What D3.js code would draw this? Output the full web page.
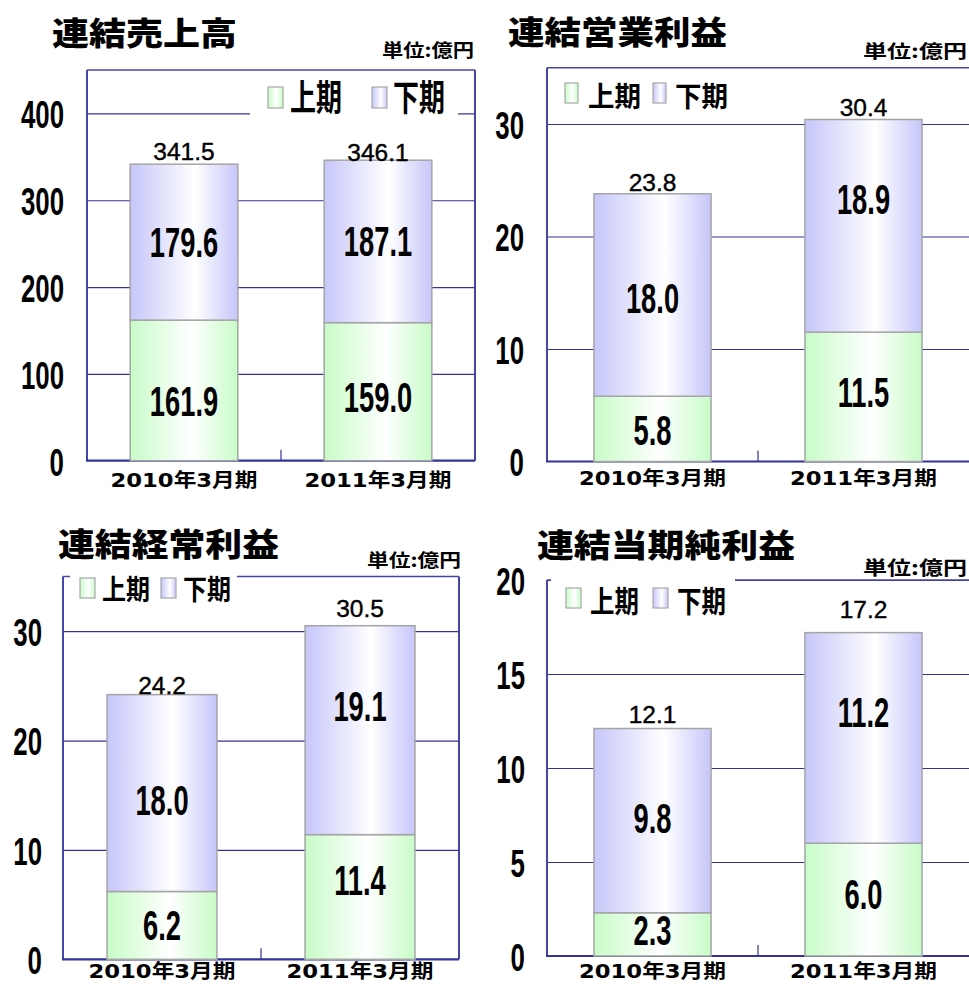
<!DOCTYPE html>
<html>
<head>
<meta charset="utf-8">
<script src="https://cdn.jsdelivr.net/npm/d3@7"></script>
<style>
  body { margin: 0; background: #fff; }
  svg { display: block; }
</style>
</head>
<body>
<div id="chart"></div>
<script>
const categories = ["2010年3月期", "2011年3月期"];
const seriesNames = ["上期", "下期"];
const chartTitles = ["連結売上高", "連結営業利益", "連結経常利益", "連結当期純利益"];
const unitText = "単位:億円";
const firstHalf = [[161.9, 159.0], [5.8, 11.5], [6.2, 11.4], [2.3, 6.0]];
const secondHalf = [[179.6, 187.1], [18.0, 18.9], [18.0, 19.1], [9.8, 11.2]];
const totals = [[341.5, 346.1], [23.8, 30.4], [24.2, 30.5], [12.1, 17.2]];
const yTicks = [[0, 100, 200, 300, 400], [0, 10, 20, 30], [0, 10, 20, 30], [0, 5, 10, 15, 20]];
const yMax = [450, 35, 35, 20];

// panel layout
const panels = [
  { x0: 87, x1: 475, y0: 70, y1: 460.7, right: true,
    title: { x: 52, y: 31, w: 185 }, unit: { x: 474, y: 49, w: 92, font: 18 },
    tickX: 64, catY: 480,
    legend: { box: [250, 78, 208, 48], font: 36, ty: 94.5, tw: 52, sy: 87, sw: 15, sh: 21, sx: [268, 372], tx: [290, 393] },
    totalOff: [12.5, 8], segOff: [[11.6, 6.4], [1, 0]] },
  { x0: 547, x1: 969, y0: 67.75, y1: 461.5, right: false,
    title: { x: 508, y: 30, w: 219 }, unit: { x: 967, y: 50, w: 104, font: 18 },
    tickX: 524, catY: 478,
    legend: { box: null, font: 28, ty: 94.5, tw: 53, sy: 83, sw: 13, sh: 20, sx: [565, 653], tx: [588, 675] },
    totalOff: [11, 12.5], segOff: [[1.5, -4], [4, -26]] },
  { x0: 63, x1: 459, y0: 576.5, y1: 959.3, right: true,
    title: { x: 58, y: 542, w: 221 }, unit: { x: 461, y: 559, w: 94, font: 18 },
    tickX: 42, catY: 971,
    legend: { box: [70, 570, 167, 40], font: 28, ty: 587.5, tw: 48, sy: 578, sw: 15, sh: 20, sx: [80, 161], tx: [102, 183] },
    totalOff: [9, 17], segOff: [[0, -16], [8, -23]] },
  { x0: 547, x1: 969, y0: 580, y1: 956, right: false,
    title: { x: 537, y: 542.5, w: 258 }, unit: { x: 967, y: 566, w: 104, font: 19 },
    tickX: 525, catY: 971,
    legend: { box: [551, 574, 184, 40], font: 30, ty: 598.5, tw: 49, sy: 588, sw: 15, sh: 20, sx: [566, 653], tx: [590, 677] },
    totalOff: [14.5, 23], segOff: [[-4, -4.6], [-1.6, -25]] }
];

const navy = "#333399";
const jp = "'Noto Sans CJK JP', 'Noto Sans CJK SC', sans-serif";
const catFont = "'DejaVu Sans', 'Noto Sans CJK JP', sans-serif";
const latin = "'Liberation Sans', Arial, sans-serif";

const svg = d3.select("#chart").append("svg")
    .attr("width", 969)
    .attr("height", 984);

svg.append("rect").attr("width", 969).attr("height", 984).attr("fill", "#fff");

const defs = svg.append("defs");
const addGradient = (id, edge, peak) => {
    const g = defs.append("linearGradient").attr("id", id)
        .attr("x1", 0).attr("x2", 1).attr("y1", 0).attr("y2", 0);
    g.append("stop").attr("offset", 0).attr("stop-color", edge);
    g.append("stop").attr("offset", peak).attr("stop-color", "#ffffff");
    g.append("stop").attr("offset", 1).attr("stop-color", edge);
};
addGradient("gradFirst", "#c8fcc8", 0.57);
addGradient("gradSecond", "#c6c6fa", 0.6);
const fills = ["url(#gradFirst)", "url(#gradSecond)"];

// digits in the picture are tall and narrow, so squeeze them sideways
const narrowText = (parent, x, y, str, size, sx, anchor, weight) => {
    parent.append("g")
        .attr("transform", `translate(${x},${y}) scale(${sx},1)`)
        .append("text")
        .attr("text-anchor", anchor)
        .attr("dominant-baseline", "central")
        .attr("font-family", latin)
        .attr("font-size", size)
        .attr("font-weight", weight)
        .attr("fill", "#000")
        .text(str);
};

panels.forEach((P, i) => {
    const g = svg.append("g");
    const y = d3.scaleLinear().domain([0, yMax[i]]).range([P.y1, P.y0]);
    const x = d3.scaleBand().domain(categories).range([P.x0, P.x1])
        .paddingInner(0.445).paddingOuter(0.2225);

    // gridlines
    g.append("g")
        .attr("transform", `translate(${P.x0},0)`)
        .call(d3.axisLeft(y).tickValues(yTicks[i].filter(v => v > 0))
            .tickSize(-(P.x1 - P.x0)).tickFormat(""))
        .call(a => a.select(".domain").remove())
        .selectAll("line")
        .attr("stroke", navy)
        .attr("stroke-width", 1.2);

    // frame
    const frame = g.append("g").attr("stroke", "#4646a6").attr("fill", "none");
    frame.append("line").attr("x1", P.x0).attr("x2", P.x1).attr("y1", P.y0).attr("y2", P.y0).attr("stroke-width", 1.5);
    frame.append("line").attr("x1", P.x0).attr("x2", P.x0).attr("y1", P.y0).attr("y2", P.y1).attr("stroke-width", 2);
    if (P.right) {
        frame.append("line").attr("x1", P.x1).attr("x2", P.x1).attr("y1", P.y0).attr("y2", P.y1).attr("stroke-width", 2);
    }
    frame.append("line").attr("x1", P.x0 - 1).attr("x2", P.x1).attr("y1", P.y1).attr("y2", P.y1)
        .attr("stroke", navy).attr("stroke-width", 2.2);
    const midX = (x(categories[0]) + x.bandwidth() + x(categories[1])) / 2;
    frame.append("line").attr("x1", midX).attr("x2", midX).attr("y1", P.y1 - 11).attr("y2", P.y1)
        .attr("stroke", navy).attr("stroke-width", 1.2);

    // legend
    const L = P.legend;
    if (L.box) {
        g.append("rect").attr("x", L.box[0]).attr("y", L.box[1])
            .attr("width", L.box[2]).attr("height", L.box[3]).attr("fill", "#fff");
    }
    seriesNames.forEach((name, k) => {
        g.append("rect")
            .attr("x", L.sx[k]).attr("y", L.sy)
            .attr("width", L.sw).attr("height", L.sh)
            .attr("fill", fills[k])
            .attr("stroke", "#a8a8a8").attr("stroke-width", 1.2);
        g.append("text")
            .attr("x", L.tx[k]).attr("y", L.ty)
            .attr("dominant-baseline", "central")
            .attr("font-family", jp).attr("font-weight", 700)
            .attr("font-size", L.font)
            .attr("textLength", L.tw).attr("lengthAdjust", "spacingAndGlyphs")
            .text(name);
    });

    // stacked bars
    const rows = categories.map((c, j) => ({ cat: c, first: firstHalf[i][j], second: secondHalf[i][j] }));
    const stacked = d3.stack().keys(["first", "second"])(rows);

    stacked.forEach((layer, k) => {
        g.append("g").selectAll("rect")
            .data(layer)
            .join("rect")
            .attr("x", d => x(d.data.cat))
            .attr("y", d => y(d[1]))
            .attr("width", x.bandwidth())
            .attr("height", d => y(d[0]) - y(d[1]))
            .attr("fill", fills[k])
            .attr("stroke", "#a5a5a5")
            .attr("stroke-width", 1.5);
    });

    stacked.forEach((layer, k) => {
        layer.forEach((d, j) => {
            const cy = (y(d[0]) + y(d[1])) / 2 + P.segOff[k][j];
            narrowText(g, x(d.data.cat) + x.bandwidth() / 2, cy,
                d.data[layer.key].toFixed(1), 42, 0.65, "middle", 700);
        });
    });

    // totals above the bars
    categories.forEach((c, j) => {
        g.append("text")
            .attr("x", x(c) + x.bandwidth() / 2)
            .attr("y", y(totals[i][j]) - P.totalOff[j])
            .attr("text-anchor", "middle")
            .attr("dominant-baseline", "central")
            .attr("font-family", latin)
            .attr("font-size", 24.5)
            .attr("stroke", "#000").attr("stroke-width", 0.4)
            .text(totals[i][j].toFixed(1));
    });

    // category labels
    categories.forEach(c => {
        g.append("text")
            .attr("x", x(c) + x.bandwidth() / 2)
            .attr("y", P.catY)
            .attr("text-anchor", "middle")
            .attr("dominant-baseline", "central")
            .attr("font-family", catFont).attr("font-weight", 700)
            .attr("font-size", 19)
            .attr("textLength", 147).attr("lengthAdjust", "spacingAndGlyphs")
            .text(c);
    });

    // y tick labels
    yTicks[i].forEach(v => {
        narrowText(g, P.tickX, y(v) + 2, String(v), 38, 0.68, "end", 700);
    });

    // title and unit
    g.append("text")
        .attr("x", P.title.x).attr("y", P.title.y)
        .attr("dominant-baseline", "central")
        .attr("font-family", jp).attr("font-weight", 900)
        .attr("font-size", 32)
        .attr("textLength", P.title.w).attr("lengthAdjust", "spacingAndGlyphs")
        .text(chartTitles[i]);

    g.append("text")
        .attr("x", P.unit.x).attr("y", P.unit.y)
        .attr("text-anchor", "end")
        .attr("dominant-baseline", "central")
        .attr("font-family", jp).attr("font-weight", 700)
        .attr("font-size", P.unit.font)
        .attr("textLength", P.unit.w).attr("lengthAdjust", "spacingAndGlyphs")
        .text(unitText);
});
</script>
</body>
</html>
